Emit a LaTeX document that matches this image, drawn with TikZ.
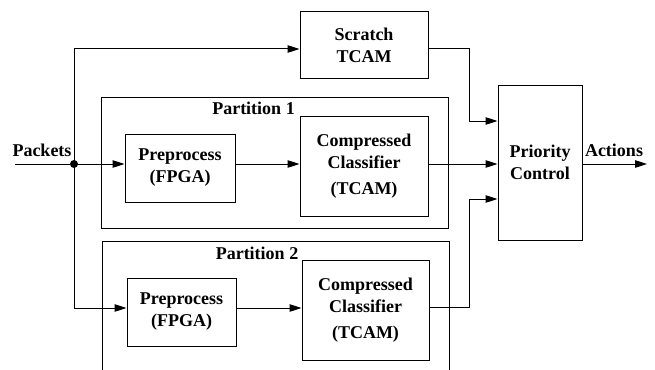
\documentclass[tikz,border=0pt]{standalone}
\usepackage{fontspec}
\setmainfont{Liberation Serif}[BoldFont={Liberation Serif Bold}]
\newfontfamily\blockfont{Liberation Serif Bold}
\usetikzlibrary{arrows.meta}
\begin{document}
\begin{tikzpicture}[x=1pt,y=-1pt,
  txt/.style={font=\blockfont\fontsize{18}{22}\selectfont},
  box/.style={draw, line width=1pt, inner sep=0pt, align=center, txt},
  part/.style={draw, line width=1pt, inner sep=0pt},
  lbl/.style={txt, inner sep=0pt, anchor=base},
  wire/.style={line width=1pt},
  flow/.style={wire, -{Triangle[length=12pt,width=7.5pt]}}]
  \clip (0,0) rectangle (655,369);

  % partition frames
  \node[part, minimum width=347pt, minimum height=131pt] (part1) at (274.5,162.5) {};
  \node[part, minimum width=347pt, minimum height=159pt] (part2) at (275.5,320.5) {};

  % processing blocks
  \node[box, minimum width=128pt, minimum height=66pt]  (scratch) at (364,45)    {Scratch\\TCAM};
  \node[box, minimum width=110pt, minimum height=68pt]  (pre1)    at (180,168)   {Preprocess\\(FPGA)};
  \node[box, minimum width=128pt, minimum height=100pt] (cc1)     at (364,166)   {Compressed\\Classifier\\[4pt](TCAM)};
  \node[box, minimum width=109pt, minimum height=68pt]  (pre2)    at (181.5,312) {Preprocess\\(FPGA)};
  \node[box, minimum width=127pt, minimum height=100pt] (cc2)     at (365.5,310) {Compressed\\Classifier\\[4pt](TCAM)};
  \node[box, minimum width=84pt,  minimum height=155pt] (prio)    at (540,162.5) {Priority\\Control};

  % labels
  \node[lbl] (lpk) at (42,156)    {Packets};
  \node[lbl] (lac) at (614,156)   {Actions};
  \node[lbl] (lp1) at (253.5,114) {Partition 1};
  \node[lbl] (lp2) at (257,259)   {Partition 2};

  % routing points
  \coordinate (src) at (15,164);
  \coordinate (j)   at (74,164);
  \coordinate (top) at (74,49);
  \coordinate (low) at (74,308);
  \coordinate (out) at (647,164);
  \coordinate (t1)  at (469,49);
  \coordinate (t2)  at (469,121);
  \coordinate (t3)  at (469,307);
  \coordinate (t4)  at (469,199);

  % connectors
  \draw[wire] (src) -- (j);
  \draw[flow] (j) -- (pre1.west |- j);
  \draw[flow] (pre1.east |- j) -- (cc1.west |- j);
  \draw[flow] (j) -- (top) -- (scratch.west |- top);
  \draw[flow] (j) -- (low) -- (pre2.west |- low);
  \draw[flow] (pre2.east |- low) -- (cc2.west |- low);
  \draw[flow] (scratch.east |- t1) -- (t1) |- (prio.west |- t2);
  \draw[flow] (cc1.east |- j) -- (prio.west |- j);
  \draw[flow] (cc2.east |- t3) -- (t3) |- (prio.west |- t4);
  \draw[flow] (prio.east |- j) -- (out);
  \fill (j) circle (4pt);
\end{tikzpicture}
\end{document}
